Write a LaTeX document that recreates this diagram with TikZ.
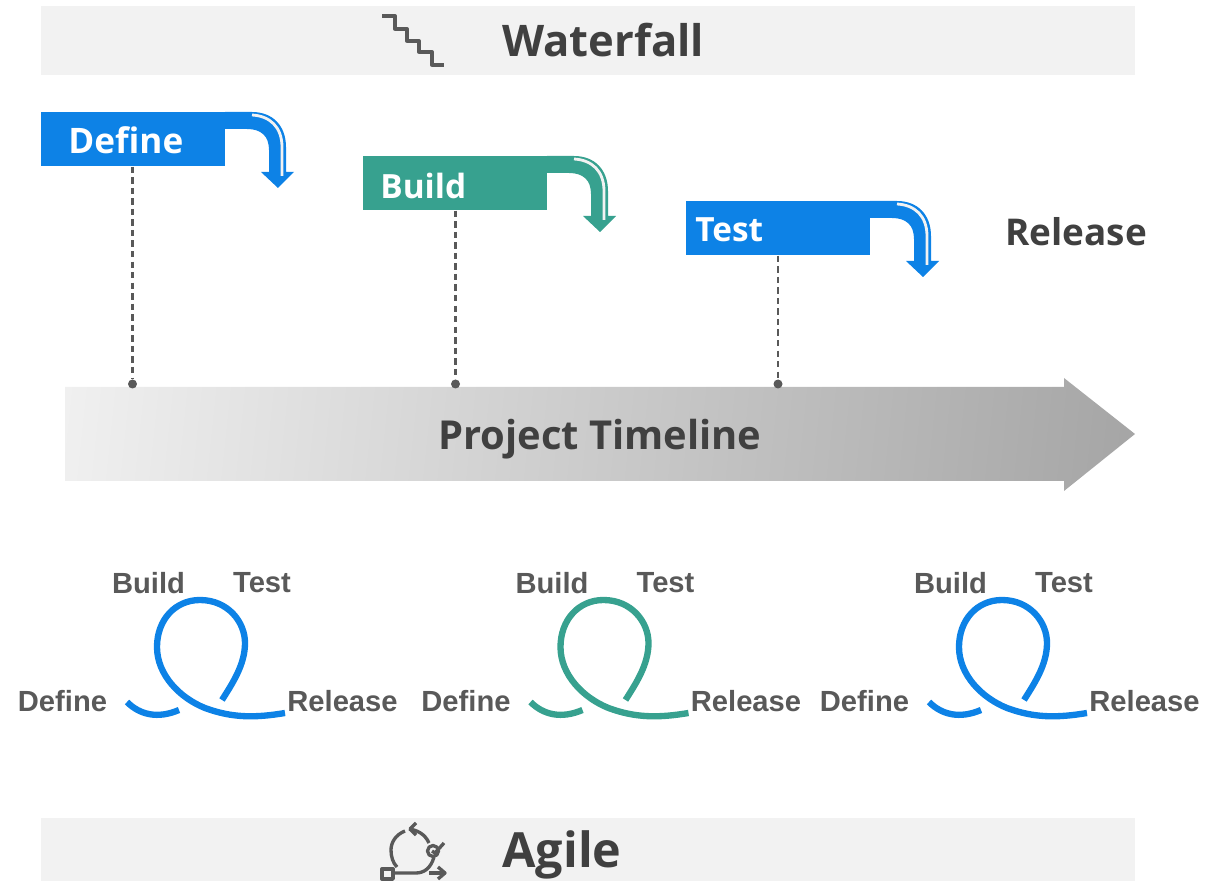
\documentclass[tikz,border=0pt]{standalone}
\usepackage{fontspec}
\setmainfont{Open Sans}
\newfontfamily\labelfont{Liberation Sans}
\definecolor{stepblue}{HTML}{0D82E6}
\definecolor{stepgreen}{HTML}{37A18F}
\definecolor{bargray}{HTML}{F2F2F2}
\definecolor{headgray}{HTML}{404040}
\definecolor{labelgray}{HTML}{595959}
\definecolor{fadelight}{HTML}{F0F0F0}
\definecolor{fadedark}{HTML}{A5A5A5}
\pgfdeclareverticalshading{timelinefade}{100bp}{color(0bp)=(fadedark); color(22.5bp)=(fadedark); color(77.5bp)=(fadelight); color(100bp)=(fadelight)}
\tikzset{
	headbar/.style={fill=bargray,draw=none},
	headtext/.style={anchor=west,inner sep=0pt,text=headgray,font=\fontsize{24.8}{30}\selectfont\bfseries},
	icon/.style={draw=labelgray,line width=1.9pt,line join=round},
	steptext/.style={anchor=west,inner sep=0pt,text=white,font=\fontsize{20}{24}\selectfont\bfseries},
	stepbox/.style={rectangle,inner sep=0pt,anchor=north west,minimum width=3.68cm,minimum height=1.08cm},
	dot/.style={circle,fill=labelgray,inner sep=0pt,minimum size=0.18cm},
	droplink/.style={draw=labelgray,line width=1.2pt,dash pattern=on 3.6pt off 2.4pt},
	looplabel/.style={inner sep=0pt,text=labelgray,font=\labelfont\fontsize{16.6}{20}\selectfont\bfseries},
	loopline/.style={line width=3.6pt}
}
\newcommand{\stepbanner}[8]{% name, x, y, colour, text x, text y, text size, text
\begin{scope}[shift={(#2,#3)}]
	\fill[#4] (184,0) -- (211,0) .. controls (232,0) and (245,14) .. (245,35) -- (245,60) -- (253,60) -- (237,76) -- (220,60) -- (228,60) -- (228,38) .. controls (228,24) and (220,17) .. (206,17) -- (184,17) -- cycle;
	\draw[bargray,line width=1.6pt] (211,3) .. controls (229,4) and (241,15) .. (241,35) -- (241,64);
	\node[stepbox,fill=#4] (#1 box) at (0,0) {};
	\node[steptext,font=\fontsize{#7}{24}\selectfont\bfseries] (#1 text) at (#5,#6) {#8};
\end{scope}
}
\newcommand{\agileloop}[3]{% name, x offset, colour
\begin{scope}[xshift=#2*0.02cm]
	\draw[#3,loopline] (127,702) .. controls (140,715) and (158,719) .. (179,710);
	\draw[#3,loopline] (285,713) .. controls (255,718) and (232,718) .. (205,708) .. controls (180,698) and (157,675) .. (157,647) .. controls (157,620) and (175,600) .. (200,600) .. controls (228,600) and (245,622) .. (245,643) .. controls (245,665) and (232,684) .. (222,700);
	\node[looplabel] (#1 build) at (148.5,583) {Build};
	\node[looplabel] (#1 test) at (262,583) {Test};
	\node[looplabel] (#1 define) at (62.5,701) {Define};
	\node[looplabel] (#1 release) at (342.5,701) {Release};
\end{scope}
}
\begin{document}
\begin{tikzpicture}[x=0.02cm,y=-0.02cm]
	\useasboundingbox (0,0) rectangle (1221,881);
	
	% bars
	\fill[headbar] (41,6) rectangle (1135,75);
	\fill[headbar] (41,818) rectangle (1135,881);
	\node[headtext] (waterfall) at (502,40) {Waterfall};
	\node[headtext,font=\fontsize{27.6}{30}\selectfont\bfseries] (agile) at (502,855) {Agile};
	
	% stairs icon
	\draw[icon] (382,16) -- (395,16) -- (395,29) -- (407,29) -- (407,41) -- (419,41) -- (419,52) -- (432,52) -- (432,65) -- (444,65);
	
	% loop icon
	\draw[icon] (382,869) rectangle (393,879);
	\draw[icon] (393,873) -- (416,873) .. controls (424,873) and (431,868) .. (434,857);
	\draw[icon] (405,831) .. controls (395,835) and (391,843) .. (391,850) .. controls (391,857) and (393,863) .. (397,867);
	\draw[icon] (409,829) .. controls (417,830) and (425,834) .. (429,843);
	\draw[icon] (416,823) -- (410,829) -- (416,835);
	\draw[icon] (433,851) circle[radius=5.5];
	\draw[icon] (432,851) -- (435,853) -- (444,843);
	\draw[icon] (429,873) -- (445,873);
	\draw[icon] (438,867) -- (445,873) -- (438,879);
	
	% waterfall steps
	\stepbanner{define}{41}{112}{stepblue}{27}{28}{20}{Define}
	\stepbanner{build}{363}{156}{stepgreen}{17}{30}{19}{Build}
	\stepbanner{test}{686}{201}{stepblue}{9}{29}{19}{Test}
	\node[headtext,font=\fontsize{21}{24}\selectfont\bfseries] (release) at (1005,232) {Release};
	
	% timeline
	\shade[shading=timelinefade,shading angle=84] (65,387) -- (1064,387) -- (1064,378) -- (1135,434) -- (1064,491) -- (1064,481) -- (65,481) -- cycle;
	\node[headtext,anchor=center,font=\fontsize{22.7}{28}\selectfont\bfseries] (timeline) at (600,439) {Project Timeline};
	\node[dot] (define dot) at (132.5,384) {};
	\node[dot] (build dot) at (455.5,384) {};
	\node[dot] (test dot) at (778,384) {};
	\draw[droplink] (define box.south -| define dot) -- (define dot);
	\draw[droplink] (build box.south -| build dot) -- (build dot);
	\draw[droplink] (test box.south -| test dot) -- (test dot);
	
	% agile loops
	\agileloop{first}{0}{stepblue}
	\agileloop{second}{403.5}{stepgreen}
	\agileloop{third}{802}{stepblue}
\end{tikzpicture}
\end{document}
